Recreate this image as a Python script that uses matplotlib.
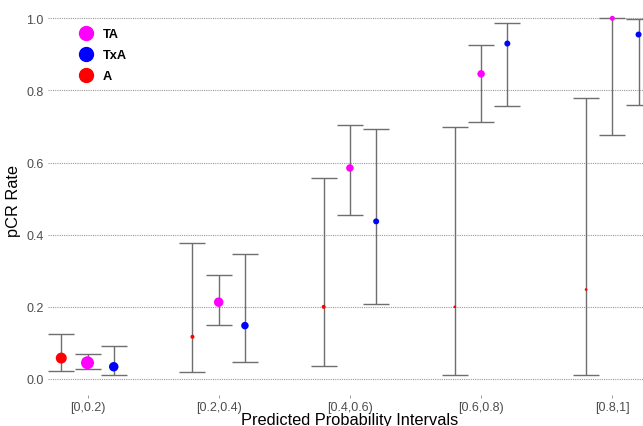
import numpy as np
import matplotlib
matplotlib.use("Agg")
import matplotlib.pyplot as plt
from matplotlib.lines import Line2D

plt.rcParams['font.family'] = ['Liberation Sans', 'DejaVu Sans']

# datos
intervals = ["[0,0.2)", "[0.2,0.4)", "[0.4,0.6)", "[0.6,0.8)", "[0.8,1]"]
groups = ["TA", "TxA", "A"]

rate_ta = [0.045, 0.213, 0.585, 0.846, 1.000]
low_ta  = [0.028, 0.150, 0.455, 0.712, 0.677]
high_ta = [0.069, 0.289, 0.703, 0.925, 1.000]

rate_txa = [0.034, 0.148, 0.437, 0.930, 0.955]
low_txa  = [0.010, 0.047, 0.207, 0.757, 0.760]
high_txa = [0.092, 0.346, 0.694, 0.987, 0.997]

rate_a = [0.058, 0.117, 0.200, 0.200, 0.248]
low_a  = [0.023, 0.020, 0.035, 0.010, 0.012]
high_a = [0.126, 0.376, 0.557, 0.700, 0.780]

# tamano de punto (diametro en px), aprox. proporcional al n del grupo
size_ta  = [13, 9.5, 7.5, 7.5, 5]
size_txa = [9.5, 7.5, 6, 6, 6]
size_a   = [11, 4, 4, 2.7, 2.7]

colors = {"TA": "#ff00ff", "TxA": "#0000ff", "A": "#ff0000"}
offsets = {"TA": 0.0, "TxA": 0.2, "A": -0.2}

series = {
    "TA":  (rate_ta, low_ta, high_ta, size_ta),
    "TxA": (rate_txa, low_txa, high_txa, size_txa),
    "A":   (rate_a, low_a, high_a, size_a),
}

W, H = 643, 427
fig = plt.figure(figsize=(W / 100, H / 100), dpi=100)

# ejes: y=0 -> 380 px, y=1 -> 19.3 px
y0_px, y1_px = 380.0, 19.3
ppu = y0_px - y1_px
ylim = (-0.045, 1.05)
ax_bottom_px = y0_px - ylim[0] * ppu
ax_h_px = (ylim[1] - ylim[0]) * ppu
left_px = 48
ax = fig.add_axes([left_px / W, (H - ax_bottom_px) / H,
                   (W - left_px) / W, ax_h_px / H])

x = np.arange(len(intervals))
x0_px, step_px = 87.5, 131.2
ax.set_xlim((left_px - x0_px) / step_px, (W - x0_px) / step_px)
ax.set_ylim(*ylim)

for g in ["A", "TA", "TxA"]:
    rate, low, high, size = series[g]
    rate = np.array(rate)
    xx = x + offsets[g]
    err = [rate - np.array(low), np.array(high) - rate]
    ax.errorbar(xx, rate, yerr=err, fmt="none", ecolor="#6e6e6e",
                elinewidth=1.0, capsize=9.4, capthick=1.0, zorder=2)
    ax.scatter(xx, rate, s=(np.array(size) * 0.72) ** 2, color=colors[g],
               edgecolors="none", zorder=3)

ax.set_yticks([0.0, 0.2, 0.4, 0.6, 0.8, 1.0])
ax.set_yticklabels(["0.0", "0.2", "0.4", "0.6", "0.8", "1.0"])
ax.set_xticks(x)
ax.set_xticklabels(intervals)
ax.grid(axis="y", color="#9a9a9a", linestyle=(0, (1, 1)), linewidth=0.8)
ax.set_axisbelow(True)
for s in ax.spines.values():
    s.set_visible(False)
ax.tick_params(axis="y", length=0, pad=3, labelsize=9, labelcolor="#4d4d4d")
ax.tick_params(axis="x", length=2, width=0.6, color="#888888", pad=2,
               labelsize=9, labelcolor="#4d4d4d")

ax.set_ylabel("pCR Rate", fontsize=11.8)
ax.yaxis.set_label_coords(-27 / (W - left_px), (ax_bottom_px - 201) / ax_h_px)
fig.text(350 / W, 1 - 425.5 / H, "Predicted Probability Intervals",
         ha="center", va="baseline", fontsize=11.8)

handles = [Line2D([], [], marker="o", linestyle="none", color=colors[g],
                  markersize=10) for g in groups]
leg = ax.legend(handles, groups, loc="upper left", frameon=False,
                bbox_to_anchor=(72 / W, 1 - 23 / H), bbox_transform=fig.transFigure,
                prop={"weight": "bold", "size": 9.2}, handlelength=1.2,
                handletextpad=0.7, labelspacing=0.7, borderpad=0)

fig.savefig("out.png", dpi=100)
